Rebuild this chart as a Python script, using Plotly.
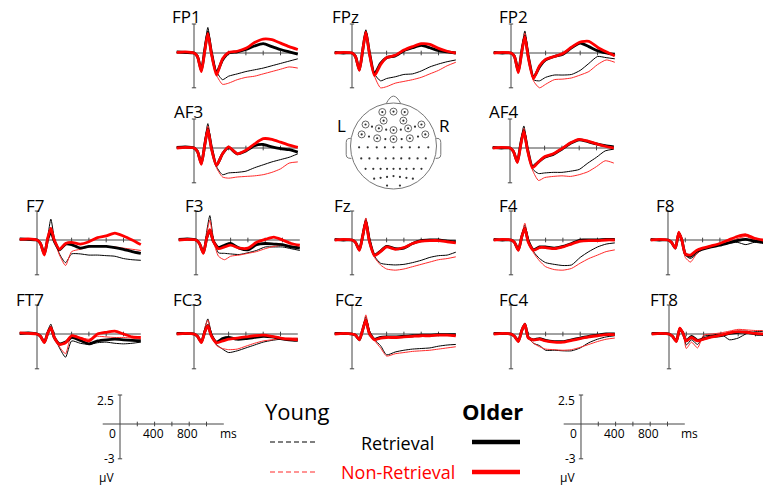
import plotly.graph_objects as go

# ---------------- data (µV) ----------------
TIMES_MS = [-200, -100, 0, 40, 85, 125, 160, 200, 260, 330, 400, 500, 600, 700, 800, 900, 1000, 1100, 1200]

FP1_YOUNG_RET = [0.05, 0.0, 0.0, -0.2, -1.4, 0.6, 2.2, 0.3, -1.6, -2.3, -2.0, -1.8, -1.6, -1.45, -1.3, -1.1, -0.9, -0.7, -0.5]
FP1_YOUNG_NON = [0.0, 0.05, 0.0, -0.2, -1.5, 0.4, 1.8, 0.1, -1.9, -2.7, -2.6, -2.3, -2.1, -2.0, -1.8, -1.6, -1.4, -1.2, -1.3]
FP1_OLDER_RET = [0.1, 0.05, 0.0, -0.3, -1.5, 0.3, 1.8, 0.1, -1.7, -0.6, 0.0, 0.1, 0.3, 0.6, 0.8, 0.55, 0.3, 0.1, -0.1]
FP1_OLDER_NON = [0.05, 0.1, 0.0, -0.3, -1.6, 0.2, 1.7, 0.0, -1.9, -0.5, 0.05, 0.15, 0.4, 0.9, 1.2, 1.15, 0.85, 0.55, 0.3]

FPZ_YOUNG_RET = [0.0, 0.05, 0.0, -0.2, -1.5, 0.5, 2.0, 0.2, -1.8, -2.4, -2.2, -2.05, -1.85, -1.8, -1.55, -1.2, -0.95, -0.75, -0.6]
FPZ_YOUNG_NON = [0.05, 0.0, 0.0, -0.2, -1.5, 0.4, 1.8, 0.1, -2.0, -3.0, -2.9, -2.6, -2.45, -2.3, -2.1, -1.8, -1.5, -1.1, -0.8]
FPZ_OLDER_RET = [0.05, 0.0, 0.0, -0.3, -1.45, 0.3, 1.85, 0.1, -1.8, -0.9, -0.4, -0.25, 0.2, 0.45, 0.65, 0.45, 0.2, 0.1, 0.0]
FPZ_OLDER_NON = [0.0, 0.05, 0.0, -0.3, -1.5, 0.3, 1.8, 0.0, -1.95, -1.0, -0.4, -0.2, 0.25, 0.55, 0.8, 0.75, 0.4, 0.15, 0.0]

FP2_YOUNG_RET = [0.0, 0.05, 0.0, -0.2, -1.6, 0.4, 1.9, 0.0, -2.3, -2.4, -2.1, -1.9, -1.9, -1.85, -1.5, -0.9, -0.3, -0.4, -0.5]
FP2_YOUNG_NON = [0.05, 0.0, 0.0, -0.2, -1.6, 0.3, 1.7, -0.1, -2.4, -3.0, -2.7, -2.3, -2.25, -2.15, -1.9, -1.6, -1.0, -0.6, -0.8]
FP2_OLDER_RET = [0.05, 0.0, 0.0, -0.3, -1.6, 0.2, 1.45, -0.3, -2.1, -1.2, -0.6, -0.3, -0.1, 0.45, 0.85, 0.55, 0.2, 0.0, -0.15]
FP2_OLDER_NON = [0.0, 0.05, 0.0, -0.3, -1.7, 0.1, 1.4, -0.4, -2.2, -1.1, -0.55, -0.3, -0.05, 0.5, 0.95, 1.0, 0.5, 0.1, -0.25]

AF3_YOUNG_RET = [0.0, 0.05, 0.0, -0.2, -1.3, 0.6, 2.1, 0.3, -1.6, -2.3, -2.15, -2.1, -2.0, -1.7, -1.45, -1.2, -1.0, -0.8, -0.5]
AF3_YOUNG_NON = [0.05, 0.0, 0.0, -0.2, -1.35, 0.5, 1.9, 0.2, -1.7, -2.5, -2.6, -2.5, -2.45, -2.4, -2.3, -2.1, -1.8, -1.3, -1.2]
AF3_OLDER_RET = [0.05, 0.1, 0.0, -0.3, -1.35, 0.3, 1.65, 0.1, -1.5, -0.5, 0.05, -0.5, -0.25, 0.2, 0.3, 0.1, -0.05, -0.15, -0.35]
AF3_OLDER_NON = [0.0, 0.05, 0.0, -0.3, -1.4, 0.3, 1.6, 0.0, -1.5, -0.5, 0.1, -0.5, -0.2, 0.35, 0.8, 0.75, 0.5, 0.25, 0.05]

AF4_YOUNG_RET = [0.0, 0.05, 0.0, -0.3, -1.2, 0.6, 1.9, 0.2, -1.8, -2.2, -2.15, -2.1, -2.1, -2.0, -1.85, -1.3, -0.8, -0.25, -0.1]
AF4_YOUNG_NON = [0.05, 0.0, 0.0, -0.3, -1.25, 0.5, 1.7, 0.1, -1.9, -2.8, -2.55, -2.45, -2.4, -2.45, -2.3, -2.05, -1.6, -1.1, -1.3]
AF4_OLDER_RET = [0.05, 0.0, 0.0, -0.3, -1.2, 0.4, 1.5, 0.0, -1.6, -1.2, -0.8, -0.55, -0.1, 0.4, 0.7, 0.55, 0.35, 0.2, 0.1]
AF4_OLDER_NON = [0.0, 0.05, 0.0, -0.3, -1.25, 0.3, 1.45, -0.1, -1.7, -1.2, -0.75, -0.5, -0.05, 0.45, 0.75, 0.6, 0.35, 0.15, 0.0]

F7_YOUNG_RET = [0.0, 0.05, 0.0, -0.3, -1.2, 0.3, 1.8, 0.2, -1.2, -1.95, -1.2, -1.2, -1.3, -1.3, -1.35, -1.4, -1.6, -1.7, -1.75]
F7_YOUNG_NON = [0.05, 0.0, 0.0, -0.3, -1.3, 0.1, 1.1, 0.0, -1.3, -2.2, -1.0, -0.8, -0.6, -0.5, -0.55, -0.6, -0.7, -0.8, -0.9]
F7_OLDER_RET = [0.1, 0.05, 0.0, -0.3, -1.2, 0.1, 0.7, -0.1, -0.85, -0.35, -0.4, -0.7, -0.55, -0.55, -0.55, -0.65, -0.8, -1.0, -1.15]
F7_OLDER_NON = [0.05, 0.1, 0.0, -0.3, -1.3, 0.2, 1.0, 0.0, -0.8, -0.3, -0.2, -0.35, -0.15, 0.2, 0.35, 0.6, 0.35, 0.0, -0.4]

F3_YOUNG_RET = [0.0, 0.05, 0.0, -0.3, -1.1, 0.8, 2.1, 0.2, -1.1, -1.15, -1.2, -1.25, -1.1, -0.9, -0.6, -0.6, -0.6, -0.75, -0.9]
F3_YOUNG_NON = [0.05, 0.0, 0.0, -0.3, -1.15, 0.6, 1.7, 0.0, -1.4, -1.7, -1.4, -1.3, -1.15, -1.0, -0.75, -0.55, -0.45, -0.5, -0.6]
F3_OLDER_RET = [0.05, 0.1, 0.0, -0.3, -1.1, 0.2, 0.85, -0.1, -0.65, -0.45, -0.3, -0.7, -0.85, -0.4, -0.3, -0.35, -0.4, -0.6, -0.7]
F3_OLDER_NON = [0.0, 0.05, 0.0, -0.3, -1.15, 0.2, 0.9, -0.1, -0.75, -0.6, -0.45, -0.7, -0.7, -0.2, 0.05, 0.25, 0.0, -0.3, -0.45]

FZ_YOUNG_RET = [0.0, 0.05, 0.0, -0.2, -0.85, 0.6, 1.85, 0.3, -1.4, -2.0, -2.1, -2.15, -2.1, -1.95, -1.75, -1.5, -1.35, -1.3, -1.05]
FZ_YOUNG_NON = [0.05, 0.0, 0.0, -0.2, -0.9, 0.5, 1.9, 0.2, -1.5, -2.15, -2.5, -2.6, -2.5, -2.3, -2.1, -1.9, -1.7, -1.6, -1.45]
FZ_OLDER_RET = [0.05, 0.0, 0.0, -0.2, -0.85, 0.4, 1.6, 0.0, -1.3, -0.95, -0.55, -0.75, -0.7, -0.3, -0.05, 0.0, 0.0, -0.1, -0.15]
FZ_OLDER_NON = [0.0, 0.05, 0.0, -0.2, -0.9, 0.4, 1.6, -0.1, -1.35, -1.0, -0.6, -0.8, -0.65, -0.3, -0.1, -0.05, -0.05, -0.15, -0.25]

F4_YOUNG_RET = [0.0, 0.05, 0.0, -0.2, -0.85, 0.4, 1.3, 0.1, -1.0, -1.6, -1.95, -2.1, -2.2, -2.15, -1.5, -1.0, -0.6, -0.35, -0.25]
F4_YOUNG_NON = [0.05, 0.0, 0.0, -0.2, -0.9, 0.4, 1.45, 0.0, -1.1, -1.8, -2.3, -2.55, -2.6, -2.45, -2.0, -1.6, -1.3, -1.0, -0.85]
F4_OLDER_RET = [0.05, 0.0, 0.0, -0.2, -0.85, 0.3, 1.0, -0.1, -0.85, -0.6, -0.6, -0.7, -0.55, -0.3, 0.0, 0.0, 0.0, 0.05, 0.05]
F4_OLDER_NON = [0.0, 0.05, 0.0, -0.2, -0.9, 0.3, 1.0, -0.2, -0.9, -0.65, -0.65, -0.75, -0.6, -0.35, -0.1, -0.05, -0.05, 0.0, 0.0]

F8_YOUNG_RET = [0.0, 0.05, 0.0, -0.2, -0.7, 0.7, 0.1, -1.3, -1.6, -1.2, -0.8, -0.6, -0.45, -0.3, -0.2, -0.4, -0.2, -0.3, -0.3]
F8_YOUNG_NON = [0.05, 0.0, 0.0, -0.2, -0.75, 0.75, 0.1, -1.5, -1.9, -1.2, -0.8, -0.55, -0.45, -0.15, 0.1, 0.3, 0.0, -0.1, -0.1]
F8_OLDER_RET = [0.05, 0.0, 0.0, -0.2, -0.7, 0.6, 0.0, -1.2, -1.4, -1.0, -0.8, -0.6, -0.45, -0.25, -0.05, 0.05, -0.1, -0.15, -0.2]
F8_OLDER_NON = [0.0, 0.05, 0.0, -0.2, -0.7, 0.65, 0.0, -1.2, -1.3, -0.9, -0.7, -0.5, -0.3, 0.0, 0.3, 0.45, 0.15, 0.0, -0.1]

FT7_YOUNG_RET = [0.0, 0.05, 0.0, -0.2, -0.7, 0.3, 0.85, -0.2, -1.2, -2.0, -0.6, -0.8, -0.9, -0.75, -0.7, -0.8, -0.85, -0.8, -0.7]
FT7_YOUNG_NON = [0.1, 0.05, 0.0, -0.2, -0.7, 0.2, 0.7, -0.2, -1.1, -1.7, -0.1, -0.3, -0.45, -0.2, -0.25, -0.3, -0.3, -0.35, -0.45]
FT7_OLDER_RET = [0.05, 0.1, 0.0, -0.2, -0.7, 0.1, 0.55, -0.3, -0.85, -0.7, -0.3, -0.55, -0.85, -0.6, -0.5, -0.45, -0.5, -0.55, -0.6]
FT7_OLDER_NON = [0.1, 0.05, 0.0, -0.2, -0.75, 0.1, 0.55, -0.3, -0.9, -0.75, -0.15, -0.35, -0.6, 0.0, 0.15, 0.25, 0.0, -0.25, -0.3]

FC3_YOUNG_RET = [0.0, 0.05, 0.0, -0.2, -0.7, 0.5, 1.3, 0.1, -0.9, -1.3, -1.6, -1.45, -1.2, -0.95, -0.7, -0.55, -0.45, -0.45, -0.4]
FC3_YOUNG_NON = [0.05, 0.0, 0.0, -0.2, -0.7, 0.5, 1.2, 0.0, -1.0, -1.25, -1.35, -1.3, -1.05, -0.8, -0.6, -0.5, -0.4, -0.35, -0.35]
FC3_OLDER_RET = [0.05, 0.05, 0.0, -0.2, -0.7, 0.2, 0.75, -0.1, -0.7, -0.4, -0.3, -0.45, -0.4, -0.3, -0.2, -0.25, -0.4, -0.5, -0.55]
FC3_OLDER_NON = [0.0, 0.05, 0.0, -0.2, -0.75, 0.2, 0.7, -0.15, -0.75, -0.6, -0.45, -0.35, -0.25, -0.15, -0.1, -0.2, -0.35, -0.45, -0.5]

FCZ_YOUNG_RET = [0.0, 0.05, 0.0, -0.1, -0.5, 0.5, 1.5, 0.3, -0.5, -1.0, -1.8, -1.55, -1.4, -1.3, -1.25, -1.2, -1.05, -0.95, -0.9]
FCZ_YOUNG_NON = [0.05, 0.0, 0.0, -0.1, -0.5, 0.5, 1.65, 0.3, -0.55, -1.2, -1.9, -1.7, -1.6, -1.5, -1.45, -1.4, -1.3, -1.2, -1.1]
FCZ_OLDER_RET = [0.05, 0.05, 0.0, -0.1, -0.5, 0.4, 1.2, 0.1, -0.45, -0.3, -0.25, -0.25, -0.2, -0.15, -0.1, -0.1, -0.05, -0.05, -0.05]
FCZ_OLDER_NON = [0.0, 0.05, 0.0, -0.1, -0.5, 0.4, 1.2, 0.05, -0.5, -0.35, -0.3, -0.3, -0.25, -0.2, -0.15, -0.15, -0.1, -0.1, -0.15]

FC4_YOUNG_RET = [0.0, 0.05, 0.0, -0.2, -0.65, 0.4, 0.9, -0.3, -0.8, -1.0, -1.4, -1.4, -1.45, -1.45, -1.2, -0.75, -0.45, -0.25, -0.15]
FC4_YOUNG_NON = [0.05, 0.0, 0.0, -0.2, -0.7, 0.4, 0.9, -0.3, -0.8, -1.1, -1.3, -1.35, -1.4, -1.35, -1.15, -0.9, -0.65, -0.45, -0.35]
FC4_OLDER_RET = [0.05, 0.05, 0.0, -0.2, -0.6, 0.3, 0.85, -0.3, -0.5, -0.4, -0.55, -0.65, -0.65, -0.5, -0.35, -0.2, -0.1, 0.0, 0.0]
FC4_OLDER_NON = [0.0, 0.05, 0.0, -0.2, -0.65, 0.3, 0.85, -0.35, -0.5, -0.45, -0.6, -0.7, -0.7, -0.55, -0.4, -0.25, -0.15, -0.05, -0.05]

FT8_YOUNG_RET = [0.0, 0.05, 0.0, -0.2, -0.65, 0.5, 0.2, -0.95, -0.5, -0.9, -0.2, -0.1, 0.0, -0.5, -0.35, 0.05, 0.2, 0.2, 0.2]
FT8_YOUNG_NON = [0.05, 0.0, 0.0, -0.2, -0.65, 0.55, 0.2, -1.25, -0.7, -1.2, -0.1, 0.0, 0.1, 0.25, 0.4, 0.35, 0.3, 0.3, 0.3]
FT8_OLDER_RET = [0.05, 0.05, 0.0, -0.2, -0.6, 0.45, 0.1, -0.6, -0.2, -0.55, -0.4, -0.2, -0.15, 0.05, 0.15, 0.15, 0.0, -0.05, -0.1]
FT8_OLDER_NON = [0.0, 0.05, 0.0, -0.2, -0.65, 0.5, 0.1, -0.6, -0.3, -0.6, -0.45, -0.25, -0.1, 0.1, 0.2, 0.15, 0.05, 0.0, -0.05]

ELECTRODE_NAMES = ["FP1", "FPz", "FP2", "AF3", "AF4", "F7", "F3", "Fz", "F4", "F8",
                   "FT7", "FC3", "FCz", "FC4", "FT8"]
SERIES = {
    "FP1": (FP1_YOUNG_RET, FP1_YOUNG_NON, FP1_OLDER_RET, FP1_OLDER_NON),
    "FPz": (FPZ_YOUNG_RET, FPZ_YOUNG_NON, FPZ_OLDER_RET, FPZ_OLDER_NON),
    "FP2": (FP2_YOUNG_RET, FP2_YOUNG_NON, FP2_OLDER_RET, FP2_OLDER_NON),
    "AF3": (AF3_YOUNG_RET, AF3_YOUNG_NON, AF3_OLDER_RET, AF3_OLDER_NON),
    "AF4": (AF4_YOUNG_RET, AF4_YOUNG_NON, AF4_OLDER_RET, AF4_OLDER_NON),
    "F7": (F7_YOUNG_RET, F7_YOUNG_NON, F7_OLDER_RET, F7_OLDER_NON),
    "F3": (F3_YOUNG_RET, F3_YOUNG_NON, F3_OLDER_RET, F3_OLDER_NON),
    "Fz": (FZ_YOUNG_RET, FZ_YOUNG_NON, FZ_OLDER_RET, FZ_OLDER_NON),
    "F4": (F4_YOUNG_RET, F4_YOUNG_NON, F4_OLDER_RET, F4_OLDER_NON),
    "F8": (F8_YOUNG_RET, F8_YOUNG_NON, F8_OLDER_RET, F8_OLDER_NON),
    "FT7": (FT7_YOUNG_RET, FT7_YOUNG_NON, FT7_OLDER_RET, FT7_OLDER_NON),
    "FC3": (FC3_YOUNG_RET, FC3_YOUNG_NON, FC3_OLDER_RET, FC3_OLDER_NON),
    "FCz": (FCZ_YOUNG_RET, FCZ_YOUNG_NON, FCZ_OLDER_RET, FCZ_OLDER_NON),
    "FC4": (FC4_YOUNG_RET, FC4_YOUNG_NON, FC4_OLDER_RET, FC4_OLDER_NON),
    "FT8": (FT8_YOUNG_RET, FT8_YOUNG_NON, FT8_OLDER_RET, FT8_OLDER_NON),
}
TICKS_MS = [200, 400, 600, 800, 1000]
SCALE_TICK_LABELS = ["400", "800"]

# head map electrodes (normalised head radius = 1)
CIRCLED_X = [-0.26, 0.0, 0.26, -0.23, 0.23, -0.65, -0.34, 0.0, 0.34, 0.65, -0.74, -0.38, 0.0, 0.38, 0.74]
CIRCLED_Y = [0.79, 0.80, 0.79, 0.59, 0.59, 0.50, 0.41, 0.37, 0.41, 0.50, 0.27, 0.18, 0.16, 0.18, 0.27]
DOT_X = [-0.50, -0.17, 0.17, 0.50, -0.57, -0.19, 0.19, 0.57,
         -0.80, -0.60, -0.39, -0.20, 0.0, 0.19, 0.38, 0.59, 0.81,
         -0.75, -0.56, -0.37, -0.18, 0.0, 0.18, 0.37, 0.56, 0.75,
         -0.65, -0.47, -0.30, -0.15, 0.0, 0.15, 0.30, 0.47, 0.65,
         -0.45, -0.30, -0.15, 0.0, 0.15, 0.30, 0.45,
         -0.15, 0.15]
DOT_Y = [0.45, 0.38, 0.38, 0.45, 0.22, 0.16, 0.16, 0.22,
         -0.03, -0.03, -0.03, -0.03, -0.03, -0.03, -0.03, -0.03, -0.03,
         -0.29, -0.29, -0.29, -0.29, -0.29, -0.29, -0.29, -0.29, -0.29,
         -0.53, -0.53, -0.53, -0.53, -0.53, -0.53, -0.53, -0.53, -0.53,
         -0.76, -0.74, -0.72, -0.70, -0.72, -0.74, -0.76,
         -0.92, -0.92]

# ---------------- layout geometry (pixels) ----------------
W, H = 763, 489
KX = 0.0865   # px per ms
KY = 11.6     # px per µV
PANEL_POS = {  # (x of 0 ms axis, y of 0 µV baseline, label x, label y)
    "FP1": (194, 53, 170, 17), "FPz": (352, 53, 330, 17), "FP2": (511, 53, 497, 17),
    "AF3": (194, 148, 172, 112), "AF4": (510, 148, 487, 112),
    "F7": (37, 240, 24, 205), "F3": (196, 240, 183, 205), "Fz": (352, 240, 332, 205),
    "F4": (511, 240, 497, 205), "F8": (668, 240, 654, 205),
    "FT7": (37, 334, 14, 299), "FC3": (194, 334, 171, 299), "FCz": (352, 334, 333, 299),
    "FC4": (511, 334, 497, 299), "FT8": (669, 334, 648, 299),
}
SCALE_POS = [(120, 424), (581, 424)]

FONT = "Open Sans"
AX_COL = "#444444"

fig = go.Figure()
shapes = []
annotations = []


def make_axes(n, X0, Y0, xr, yr):
    left = X0 + xr[0] * KX
    right = X0 + xr[1] * KX
    if right > W:
        xr = (xr[0], (W - X0) / KX)
        right = W
    top = Y0 - yr[1] * KY
    bot = Y0 - yr[0] * KY
    sfx = "" if n == 1 else str(n)
    fig.update_layout(**{
        f"xaxis{sfx}": dict(domain=[left / W, right / W], range=list(xr), visible=False,
                            fixedrange=True, anchor=f"y{sfx}"),
        f"yaxis{sfx}": dict(domain=[1 - bot / H, 1 - top / H], range=list(yr), visible=False,
                            fixedrange=True, anchor=f"x{sfx}"),
    })
    return f"x{sfx}", f"y{sfx}"


def erp_axis_shapes(xref, yref):
    ln = dict(color=AX_COL, width=1)
    shapes.append(dict(type="line", xref=xref, yref=yref, x0=-200, x1=1200, y0=0, y1=0,
                       line=ln, layer="below"))
    shapes.append(dict(type="line", xref=xref, yref=yref, x0=0, x1=0, y0=-3, y1=2.5,
                       line=ln, layer="below"))
    for t in TICKS_MS:
        shapes.append(dict(type="line", xref=xref, yref=yref, x0=t, x1=t, y0=-0.2, y1=0.2,
                           line=ln, layer="below"))
    for yv in (2.5, -3):
        shapes.append(dict(type="line", xref=xref, yref=yref, x0=-25, x1=25, y0=yv, y1=yv,
                           line=ln, layer="below"))


n = 0
for name in ELECTRODE_NAMES:
    n += 1
    X0, Y0, lx, ly = PANEL_POS[name]
    xref, yref = make_axes(n, X0, Y0, (-250, 1250), (-3.6, 3.0))
    erp_axis_shapes(xref, yref)
    yr_, yn_, or_, on_ = SERIES[name]
    styles = [(yr_, "#000000", 1.0), (yn_, "#ff2a2a", 1.0),
              (or_, "#000000", 2.8), (on_, "#ff0000", 2.8)]
    for vals, col, wdt in styles:
        fig.add_trace(go.Scatter(x=TIMES_MS, y=vals, mode="lines", xaxis=xref, yaxis=yref,
                                 line=dict(color=col, width=wdt, shape="spline", smoothing=0.6),
                                 hoverinfo="skip", showlegend=False))
    annotations.append(dict(text=name, xref="paper", yref="paper", x=lx / W, y=1 - ly / H,
                            xanchor="left", yanchor="middle", showarrow=False,
                            font=dict(family=FONT, size=17, color="#000")))

# scale bars
for X0, Y0 in SCALE_POS:
    n += 1
    xref, yref = make_axes(n, X0, Y0, (-350, 1500), (-5.5, 3.0))
    erp_axis_shapes(xref, yref)
    f12 = dict(family=FONT, size=12, color="#000")
    annotations += [
        dict(text="2.5", xref=xref, yref=yref, x=-45, y=2.0, xanchor="right", yanchor="middle", showarrow=False, font=f12),
        dict(text="0", xref=xref, yref=yref, x=-25, y=-0.85, xanchor="right", yanchor="middle", showarrow=False, font=f12),
        dict(text=SCALE_TICK_LABELS[0], xref=xref, yref=yref, x=390, y=-0.85, xanchor="center", yanchor="middle", showarrow=False, font=f12),
        dict(text=SCALE_TICK_LABELS[1], xref=xref, yref=yref, x=780, y=-0.85, xanchor="center", yanchor="middle", showarrow=False, font=f12),
        dict(text="ms", xref=xref, yref=yref, x=1250, y=-0.85, xanchor="center", yanchor="middle", showarrow=False, font=f12),
        dict(text="-3", xref=xref, yref=yref, x=-30, y=-2.95, xanchor="right", yanchor="middle", showarrow=False, font=f12),
        dict(text="µV", xref=xref, yref=yref, x=-160, y=-4.6, xanchor="center", yanchor="middle", showarrow=False, font=f12),
    ]

# head map
n += 1
hs = "" if n == 1 else str(n)
HC_X, HC_Y, HR = 393.5, 146, 43
fig.update_layout(**{
    f"xaxis{hs}": dict(domain=[(HC_X - 1.5 * HR) / W, (HC_X + 1.5 * HR) / W], range=[-1.5, 1.5],
                       visible=False, fixedrange=True, anchor=f"y{hs}"),
    f"yaxis{hs}": dict(domain=[1 - (HC_Y + 1.25 * HR) / H, 1 - (HC_Y - 1.25 * HR) / H], range=[-1.25, 1.25],
                       visible=False, fixedrange=True, anchor=f"x{hs}"),
})
hx, hy = f"x{hs}", f"y{hs}"
hl = dict(color="#777777", width=1)
shapes.append(dict(type="circle", xref=hx, yref=hy, x0=-1, x1=1, y0=-1, y1=1, line=hl))
shapes.append(dict(type="path", xref=hx, yref=hy, path="M -0.17 0.985 Q -0.08 1.16 0 1.16 Q 0.08 1.16 0.17 0.985",
                   line=hl))
shapes.append(dict(type="path", xref=hx, yref=hy,
                   path="M -0.99 0.18 L -1.06 0.17 Q -1.1 0.15 -1.1 0.08 L -1.1 -0.2 Q -1.1 -0.27 -1.05 -0.28 L -0.98 -0.29",
                   line=hl))
shapes.append(dict(type="path", xref=hx, yref=hy,
                   path="M 0.99 0.18 L 1.06 0.17 Q 1.1 0.15 1.1 0.08 L 1.1 -0.2 Q 1.1 -0.27 1.05 -0.28 L 0.98 -0.29",
                   line=hl))
fig.add_trace(go.Scatter(x=CIRCLED_X, y=CIRCLED_Y, mode="markers", xaxis=hx, yaxis=hy,
                         marker=dict(symbol="circle-open", size=7, color="#666666", line=dict(width=1)),
                         hoverinfo="skip", showlegend=False))
fig.add_trace(go.Scatter(x=CIRCLED_X + DOT_X, y=CIRCLED_Y + DOT_Y, mode="markers", xaxis=hx, yaxis=hy,
                         marker=dict(symbol="circle", size=2.2, color="#333333"),
                         hoverinfo="skip", showlegend=False))
annotations.append(dict(text="L", xref="paper", yref="paper", x=341 / W, y=1 - 125 / H,
                        xanchor="center", yanchor="middle", showarrow=False,
                        font=dict(family=FONT, size=17, color="#000")))
annotations.append(dict(text="R", xref="paper", yref="paper", x=444 / W, y=1 - 125 / H,
                        xanchor="center", yanchor="middle", showarrow=False,
                        font=dict(family=FONT, size=17, color="#000")))

# legend
def ptxt(text, x, y, size, color="#000", bold=False):
    annotations.append(dict(text=f"<b>{text}</b>" if bold else text, xref="paper", yref="paper",
                            x=x / W, y=1 - y / H, xanchor="center", yanchor="middle",
                            showarrow=False, font=dict(family=FONT, size=size, color=color)))

ptxt("Young", 297, 411, 22)
ptxt("Older", 492, 411, 22, bold=True)
ptxt("Retrieval", 397, 443, 18)
ptxt("Non-Retrieval", 398, 472, 18, color="#ff0000")
for y, col in ((442, "#000000"), (472, "#ff2a2a")):
    shapes.append(dict(type="line", xref="paper", yref="paper", x0=270 / W, x1=318 / W,
                       y0=1 - y / H, y1=1 - y / H, line=dict(color=col, width=1.2, dash="5px,3px")))
for y, col in ((442, "#000000"), (472, "#ff0000")):
    shapes.append(dict(type="line", xref="paper", yref="paper", x0=472 / W, x1=520 / W,
                       y0=1 - y / H, y1=1 - y / H, line=dict(color=col, width=4.5)))

fig.update_layout(width=W, height=H, margin=dict(l=0, r=0, t=0, b=0),
                  paper_bgcolor="white", plot_bgcolor="white", showlegend=False,
                  shapes=shapes, annotations=annotations)
fig.write_html("out.html", config={"displayModeBar": False},
               post_script="document.body.style.margin='0px';document.body.style.overflow='hidden';")
